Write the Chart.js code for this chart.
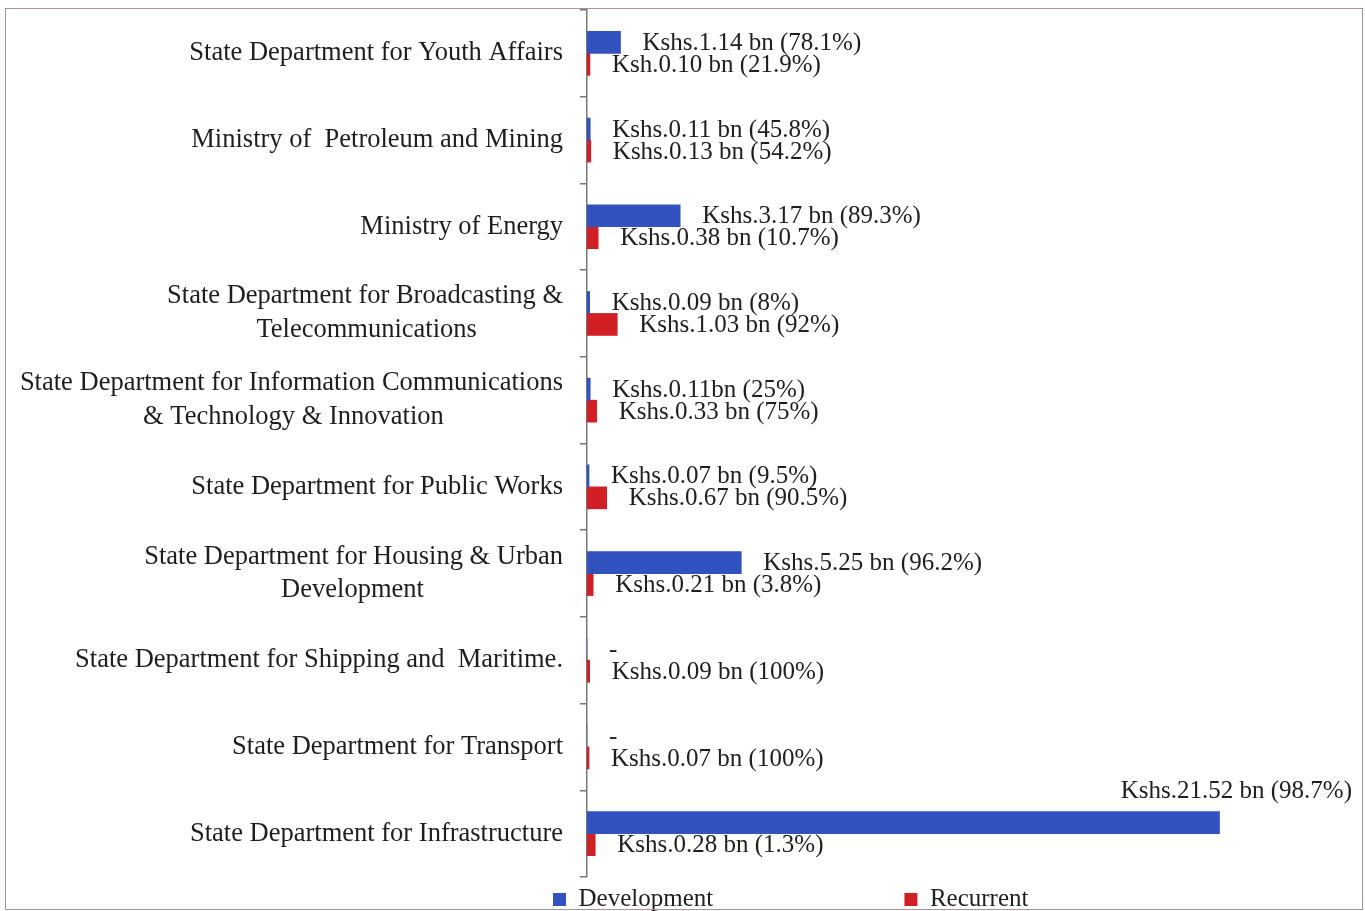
<!DOCTYPE html>
<html>
<head>
<meta charset="utf-8">
<script src="https://cdn.jsdelivr.net/npm/chart.js@4.4.1/dist/chart.umd.min.js"></script>
<style>
  html, body { margin: 0; padding: 0; background: #fff; }
  #wrap { position: relative; width: 1365px; height: 911px; }
  #frame { position: absolute; left: 5px; top: 8px; width: 1356px; height: 900px; border: 1px solid #a89494; pointer-events: none; }
</style>
</head>
<body>
<div id="wrap">
  <canvas id="chart" width="1365" height="911"></canvas>
  <div id="frame"></div>
</div>
<script>
const categories = [
  ["State Department for Youth Affairs"],
  ["Ministry of  Petroleum and Mining"],
  ["Ministry of Energy"],
  ["State Department for Broadcasting &", "Telecommunications"],
  ["State Department for Information Communications", "& Technology & Innovation"],
  ["State Department for Public Works"],
  ["State Department for Housing & Urban", "Development"],
  ["State Department for Shipping and  Maritime."],
  ["State Department for Transport"],
  ["State Department for Infrastructure"]
];

// billions of Kshs
const development = [1.14, 0.11, 3.17, 0.09, 0.11, 0.07, 5.25, 0, 0, 21.52];
const recurrent = [0.10, 0.13, 0.38, 1.03, 0.33, 0.67, 0.21, 0.09, 0.07, 0.28];

const devLabels = [
  "Kshs.1.14 bn (78.1%)",
  "Kshs.0.11 bn (45.8%)",
  "Kshs.3.17 bn (89.3%)",
  "Kshs.0.09 bn (8%)",
  "Kshs.0.11bn (25%)",
  "Kshs.0.07 bn (9.5%)",
  "Kshs.5.25 bn (96.2%)",
  "-",
  "-",
  "Kshs.21.52 bn (98.7%)"
];
const recLabels = [
  "Ksh.0.10 bn (21.9%)",
  "Kshs.0.13 bn (54.2%)",
  "Kshs.0.38 bn (10.7%)",
  "Kshs.1.03 bn (92%)",
  "Kshs.0.33 bn (75%)",
  "Kshs.0.67 bn (90.5%)",
  "Kshs.0.21 bn (3.8%)",
  "Kshs.0.09 bn (100%)",
  "Kshs.0.07 bn (100%)",
  "Kshs.0.28 bn (1.3%)"
];

const FONT = '"Liberation Serif", "DejaVu Serif", serif';
const TEXT = '#1e1e1e';
const CAT_SIZE = 26.5;

// center the lines of a two-line label against each other (labels are right aligned)
const measure = document.createElement('canvas').getContext('2d');
measure.font = CAT_SIZE + 'px ' + FONT;
const nbsp = measure.measureText('\u00A0').width;
function padLines(lines) {
  const widths = lines.map(l => measure.measureText(l).width);
  const widest = Math.max(...widths);
  return lines.map((l, i) => l + '\u00A0'.repeat(Math.round((widest - widths[i]) / 2 / nbsp)));
}

// values printed next to each bar
const barLabels = {
  id: 'barLabels',
  afterDatasetsDraw(chart) {
    const ctx = chart.ctx;
    const area = chart.chartArea;
    ctx.save();
    ctx.font = '25px ' + FONT;
    ctx.fillStyle = TEXT;
    ctx.textBaseline = 'middle';
    [devLabels, recLabels].forEach((texts, d) => {
      chart.getDatasetMeta(d).data.forEach((bar, i) => {
        const text = texts[i];
        const w = ctx.measureText(text).width;
        if (bar.x + 22 + w > area.right) {
          ctx.textAlign = 'right';
          ctx.fillText(text, area.right - 8, bar.y - bar.height / 2 - 20);
        } else {
          ctx.textAlign = 'left';
          ctx.fillText(text, bar.x + 22, bar.y + 1);
        }
      });
    });
    ctx.restore();
  }
};

// move the legend under the bars like in the original
const legendPlace = {
  id: 'legendPlace',
  afterLayout(chart) {
    chart.legend.left = 543;
  }
};

new Chart(document.getElementById('chart'), {
  type: 'bar',
  data: {
    labels: categories,
    datasets: [
      { label: 'Development', data: development, backgroundColor: '#3152bf', barThickness: 22 },
      { label: 'Recurrent', data: recurrent, backgroundColor: '#d11f26', barThickness: 22 }
    ]
  },
  options: {
    indexAxis: 'y',
    responsive: false,
    animation: false,
    layout: { padding: { top: 10, right: 5, bottom: -11, left: 0 } },
    scales: {
      x: { display: false, min: 0, max: 26.3 },
      y: {
        afterFit(scale) {
          scale.width = 587;
          scale.paddingTop = 0;
          scale.paddingBottom = 0;
        },
        border: { color: '#777', width: 1.5 },
        grid: { drawOnChartArea: false, offset: true, tickLength: 7, color: '#777', lineWidth: 1.5 },
        ticks: {
          autoSkip: false,
          padding: 17,
          color: TEXT,
          font: { family: FONT, size: CAT_SIZE, lineHeight: 1.28 },
          callback: (value, index) => padLines(categories[index])
        }
      }
    },
    plugins: {
      tooltip: { enabled: false },
      legend: {
        position: 'bottom',
        align: 'start',
        labels: {
          boxWidth: 13,
          boxHeight: 13,
          padding: 10,
          color: TEXT,
          font: { family: FONT, size: 25 },
          generateLabels(chart) {
            const items = Chart.defaults.plugins.legend.labels.generateLabels(chart);
            items[0].text = items[0].text + '\u00A0'.repeat(29);
            return items;
          }
        }
      }
    }
  },
  plugins: [barLabels, legendPlace]
});
</script>
</body>
</html>
